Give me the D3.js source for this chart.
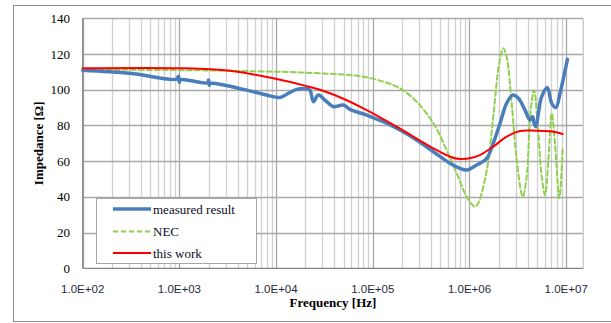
<!DOCTYPE html>
<html>
<head>
<meta charset="utf-8">
<script src="https://cdn.jsdelivr.net/npm/d3@7"></script>
<style>
	body { margin: 0; background: #fff; }
	svg { display: block; }
</style>
</head>
<body>
<div id="chart"></div>
<script>
// values
var xTickFreqs = [1e2, 1e3, 1e4, 1e5, 1e6, 1e7];
var xTickLabels = ["1.0E+02", "1.0E+03", "1.0E+04", "1.0E+05", "1.0E+06", "1.0E+07"];
var yTicks = [0, 20, 40, 60, 80, 100, 120, 140];
var legendNames = ["measured result", "NEC", "this work"];

var measFreq = [100, 308, 930, 980, 1000, 1030, 1960, 2000, 2040, 2080, 4970, 8000, 11000, 13400, 16300, 20700, 22400, 24300, 27300, 33300, 39100, 49600, 58100, 86500, 128500, 191000, 284000, 423000, 628000, 797000, 935000, 1186000, 1510000, 1760000, 2070000, 2420000, 2800000, 3200000, 3750000, 4220000, 4500000, 4650000, 4870000, 5150000, 5580000, 6380000, 7080000, 7850000, 8630000, 10300000];
var measZ = [110.9, 109.2, 105.9, 107.6, 104.2, 105.6, 103.9, 105.5, 102.5, 103.5, 99.8, 97.0, 95.7, 98, 100.2, 100.6, 99.8, 93.3, 97, 93.3, 90.5, 91.4, 89, 85.8, 82.1, 77.4, 71.8, 65.3, 58.8, 56, 55, 57.8, 61.6, 70, 81.2, 92.4, 97, 95.2, 88.6, 83, 84.9, 81.2, 79.3, 86.8, 96.1, 101.3, 92.4, 90.1, 98, 117];

var necFreq = [100, 1000, 3330, 17700, 58100, 79800, 128500, 191000, 284000, 423000, 581000, 738000, 935000, 1140000, 1230000, 1510000, 1760000, 2030000, 2240000, 2420000, 2730000, 3080000, 3550000, 3900000, 4290000, 4650000, 5030000, 5580000, 6040000, 6540000, 7080000, 7650000, 8490000, 9200000];
var necZ = [111.2, 111, 110.6, 109.7, 108.2, 107.3, 104.5, 100.8, 93.3, 81.2, 66.2, 53.2, 40.1, 34.5, 36.4, 55, 84.9, 114.8, 123.2, 118.5, 92.4, 60.6, 40.1, 51.3, 88.6, 99.8, 83, 51.3, 41, 60.6, 86.8, 70, 39.2, 68.1];

var workFreq = [100, 1100, 3330, 9350, 20700, 36100, 79800, 176000, 423000, 628000, 797000, 1090000, 1280000, 1760000, 2420000, 3330000, 4950000, 7360000, 9200000];
var workZ = [112, 112, 110.6, 106.4, 102, 98, 89.6, 79.3, 67.2, 62.5, 61.2, 62.1, 63.4, 68.1, 73.7, 76.9, 77.0, 76.5, 75.2];

function drawChart() {
	var width = 611,
		height = 323;
	var left = 82.7, right = 583.3, top = 18.3, bottom = 268.3;

	var svg = d3.select("#chart").append("svg")
		.attr("width", width)
		.attr("height", height);

	// outer chart frame (right side runs off the picture)
	svg.append("rect")
		.attr("x", 13.5).attr("y", 5.5)
		.attr("width", 640).attr("height", 316)
		.style("fill", "none")
		.style("stroke", "#8c8c8c");

	// axis runs a bit past 1e7 in the original
	var fMax = Math.pow(10, 2 + (right - left) / 96.7);
	var x = d3.scaleLog().domain([100, fMax]).range([left, right]);
	var y = d3.scaleLinear().domain([0, 140]).range([bottom, top]);

	var grid = svg.append("g");
	grid.selectAll("line.vgrid")
		.data(x.ticks())
		.enter()
			.append("line")
			.attr("class", "vgrid")
			.attr("x1", function(d) { return Math.round(x(d)) + 0.5; })
			.attr("x2", function(d) { return Math.round(x(d)) + 0.5; })
			.attr("y1", top).attr("y2", bottom)
			.style("stroke", function(d) {
				var lg = Math.log10(d);
				return Math.abs(lg - Math.round(lg)) < 1e-6 ? "#a8a8a8" : "#d0d0d0";
			})
			.style("stroke-width", "1.3px");

	grid.selectAll("line.hgrid")
		.data(yTicks.slice(1))
		.enter()
			.append("line")
			.attr("class", "hgrid")
			.attr("x1", left).attr("x2", right)
			.attr("y1", function(d) { return Math.round(y(d)) + 0.5; })
			.attr("y2", function(d) { return Math.round(y(d)) + 0.5; })
			.style("stroke", "#a8a8a8")
			.style("stroke-width", "1.3px");

	// right edge of plot
	svg.append("line")
		.attr("x1", right).attr("x2", right)
		.attr("y1", top).attr("y2", bottom)
		.style("stroke", "#c8c8c8").style("stroke-width", "1.3px");

	// axis lines
	svg.append("line")
		.attr("x1", left).attr("x2", left)
		.attr("y1", top).attr("y2", bottom)
		.style("stroke", "#868686").style("stroke-width", "1.3px");
	svg.append("line")
		.attr("x1", left).attr("x2", right)
		.attr("y1", bottom).attr("y2", bottom)
		.style("stroke", "#868686").style("stroke-width", "1.3px");

	// y tick labels
	svg.selectAll("text.ylab")
		.data(yTicks)
		.enter()
			.append("text")
			.attr("class", "ylab")
			.attr("x", 70)
			.attr("y", function(d) { return y(d) + 4.5; })
			.attr("text-anchor", "end")
			.style("font-family", "'Liberation Serif', 'Times New Roman', serif")
			.style("font-size", "13px")
			.style("fill", "#000")
			.text(function(d) { return d; });

	// x tick labels
	svg.selectAll("text.xlab")
		.data(xTickFreqs)
		.enter()
			.append("text")
			.attr("class", "xlab")
			.attr("x", function(d) { return x(d); })
			.attr("y", 293)
			.attr("text-anchor", "middle")
			.style("font-family", "'Liberation Sans', Arial, sans-serif")
			.style("font-size", "11.5px")
			.style("fill", "#1f2a3a")
			.text(function(d, i) { return xTickLabels[i]; });

	svg.append("text")
		.attr("x", (left + right) / 2).attr("y", 307)
		.attr("text-anchor", "middle")
		.style("font-family", "'Liberation Serif', 'Times New Roman', serif")
		.style("font-size", "13px")
		.style("font-weight", "bold")
		.text("Frequency [Hz]");

	svg.append("text")
		.attr("transform", "translate(43," + (top + bottom) / 2 + ") rotate(-90)")
		.attr("text-anchor", "middle")
		.style("font-family", "'Liberation Serif', 'Times New Roman', serif")
		.style("font-size", "13px")
		.style("font-weight", "bold")
		.text("Impedance [\u03A9]");

	// series
	var series = [
		{ name: legendNames[0], f: measFreq, z: measZ, color: "#4a7ebb", w: 3.5, dash: null },
		{ name: legendNames[1], f: necFreq, z: necZ, color: "#92d050", w: 2, dash: "5,3" },
		{ name: legendNames[2], f: workFreq, z: workZ, color: "#ff0000", w: 2, dash: null }
	];

	var line = d3.line()
		.x(function(d) { return x(d[0]); })
		.y(function(d) { return y(d[1]); })
		.curve(d3.curveCatmullRom.alpha(0.5));

	var drawOrder = [series[1], series[0], series[2]];
	svg.selectAll("path.series")
		.data(drawOrder)
		.enter()
			.append("path")
			.attr("class", "series")
			.attr("d", function(s) { return line(s.f.map(function(f, i) { return [f, s.z[i]]; })); })
			.style("fill", "none")
			.style("stroke", function(s) { return s.color; })
			.style("stroke-width", function(s) { return s.w + "px"; })
			.style("stroke-dasharray", function(s) { return s.dash; })
			.style("stroke-linejoin", "round")
			.style("stroke-linecap", "round");

	// legend sits on top of the grid
	var legend = svg.append("g");
	legend.append("rect")
		.attr("x", 96.5).attr("y", 198.5)
		.attr("width", 160).attr("height", 65)
		.style("fill", "#fff")
		.style("stroke", "#a6a6a6");

	var rows = legend.selectAll("g.row")
		.data(series)
		.enter()
			.append("g")
			.attr("class", "row")
			.attr("transform", function(d, i) { return "translate(0," + [209, 231.5, 253][i] + ")"; });
	rows.append("line")
		.attr("x1", 113).attr("x2", 151)
		.attr("y1", 0).attr("y2", 0)
		.style("stroke", function(s) { return s.color; })
		.style("stroke-width", function(s) { return s.w + "px"; })
		.style("stroke-dasharray", function(s) { return s.dash; });
	rows.append("text")
		.attr("x", 153).attr("y", 4.5)
		.style("font-family", "'Liberation Serif', 'Times New Roman', serif")
		.style("font-size", "13px")
		.style("fill", "#0d0d26")
		.text(function(s) { return s.name; });
}

drawChart();
</script>
</body>
</html>
